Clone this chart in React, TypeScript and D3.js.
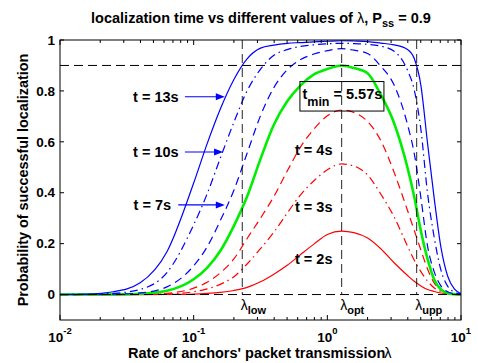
import React from 'react';
import * as d3 from 'd3';

// ---- data ----
const lambda = [0.01, 0.0158, 0.0251, 0.0398, 0.0631, 0.1, 0.126, 0.158, 0.2, 0.251, 0.316, 0.398, 0.501, 0.631, 0.794, 1, 1.28, 1.58, 2.0, 2.51, 3.16, 3.98, 4.47, 5.01, 5.62, 6.31, 7.08, 7.94, 8.91, 10];

const p13 = [0.0004, 0.002, 0.011, 0.046, 0.168, 0.438, 0.592, 0.728, 0.845, 0.926, 0.968, 0.98, 0.987, 0.99, 0.993, 0.995, 0.997, 0.996, 0.994, 0.988, 0.981, 0.963, 0.927, 0.822, 0.594, 0.376, 0.185, 0.073, 0.022, 0.004];
const p10 = [0.0001, 0.0009, 0.0047, 0.02, 0.086, 0.274, 0.395, 0.535, 0.677, 0.8, 0.885, 0.94, 0.962, 0.975, 0.981, 0.985, 0.987, 0.986, 0.983, 0.976, 0.956, 0.881, 0.804, 0.649, 0.398, 0.223, 0.096, 0.033, 0.0098, 0.0017];
const p7 = [0, 0.0002, 0.0014, 0.0063, 0.03, 0.113, 0.187, 0.29, 0.41, 0.555, 0.702, 0.813, 0.883, 0.923, 0.945, 0.958, 0.966, 0.96, 0.947, 0.897, 0.823, 0.668, 0.554, 0.381, 0.19, 0.089, 0.034, 0.011, 0.003, 0.0005];
const pMin = [0, 0.0001, 0.0007, 0.0032, 0.015, 0.06, 0.105, 0.171, 0.27, 0.385, 0.532, 0.667, 0.759, 0.822, 0.865, 0.886, 0.9, 0.89, 0.869, 0.785, 0.673, 0.498, 0.384, 0.25, 0.14, 0.058, 0.02, 0.006, 0.0015, 0.0002];
const p4 = [0, 0, 0.0001, 0.001, 0.005, 0.025, 0.048, 0.085, 0.14, 0.22, 0.3, 0.385, 0.485, 0.58, 0.65, 0.702, 0.725, 0.715, 0.68, 0.605, 0.48, 0.33, 0.252, 0.175, 0.1, 0.045, 0.018, 0.006, 0.002, 0];
const p3 = [0, 0, 0, 0.0004, 0.002, 0.011, 0.022, 0.04, 0.07, 0.12, 0.18, 0.245, 0.32, 0.392, 0.447, 0.49, 0.513, 0.505, 0.47, 0.395, 0.305, 0.19, 0.135, 0.09, 0.053, 0.026, 0.012, 0.005, 0.002, 0];
const p2 = [0, 0, 0, 0, 0.0004, 0.002, 0.0045, 0.0085, 0.016, 0.028, 0.05, 0.08, 0.115, 0.157, 0.198, 0.236, 0.249, 0.243, 0.222, 0.18, 0.125, 0.075, 0.052, 0.034, 0.02, 0.012, 0.006, 0.003, 0.001, 0];

const lambdaLow = 0.231;
const lambdaOpt = 1.28;
const lambdaUpp = 4.66;
const pss = 0.9;
const tMin = '5.57s';

const xMajor = [0.01, 0.1, 1, 10];
const xMajorExp = ['-2', '-1', '0', '1'];
const yTicks = [0, 0.2, 0.4, 0.6, 0.8, 1];
const yTickLabels = ['0', '0.2', '0.4', '0.6', '0.8', '1'];

const blueLabels = ['t = 13s', 't = 10s', 't = 7s'];
const blueLabelLam = [0.0352, 0.0352, 0.0355];
const blueLabelVal = [0.777, 0.56, 0.352];
const arrowFrom = [0.086, 0.086, 0.0767];
const arrowTo = [0.171, 0.166, 0.171];
const redLabels = ['t = 4s', 't = 3s', 't = 2s'];
const redLabelLam = [0.573, 0.573, 0.573];
const redLabelVal = [0.57, 0.344, 0.14];

const FONT = "'Liberation Sans', Arial, Helvetica, sans-serif";

export default function App() {
  const L = 60, R = 461, T = 40, B = 320;
  const x = d3.scaleLog().domain([0.01, 10]).range([L, R]);
  const y = d3.scaleLinear().domain([-0.1, 1]).range([B, T]);

  const series = [
    { v: p2, color: '#ff0000', dash: undefined, w: 1.2 },
    { v: p3, color: '#ff0000', dash: '8,4,1.5,4', w: 1.2 },
    { v: p4, color: '#ff0000', dash: '8,5', w: 1.2 },
    { v: pMin, color: '#00ee00', dash: undefined, w: 2.6 },
    { v: p7, color: '#0000ff', dash: '8,5', w: 1.2 },
    { v: p10, color: '#0000ff', dash: '8,4,1.5,4', w: 1.2 },
    { v: p13, color: '#0000ff', dash: undefined, w: 1.2 },
  ];

  const line = d3
    .line<number>()
    .x((_, i) => x(lambda[i]))
    .y((d) => y(d))
    .curve(d3.curveMonotoneX);

  const minor: number[] = [];
  [0.01, 0.1, 1].forEach((dec) => {
    for (let k = 2; k <= 9; k++) minor.push(k * dec);
  });

  const refDash = '9,5';
  const vlines = [
    { lam: lambdaLow, sub: 'low' },
    { lam: lambdaOpt, sub: 'opt' },
    { lam: lambdaUpp, sub: 'upp' },
  ];

  const boxX = x(0.64);
  const boxY = y(0.77);

  return (
    <svg
      width={478}
      height={363}
      style={{ position: 'absolute', left: 0, top: 0, background: '#fff' }}
      fontFamily={FONT}
    >
      <rect x={0} y={0} width={478} height={363} fill="#fff" />
      <defs>
        <clipPath id="plotclip">
          <rect x={L} y={T} width={R - L} height={B - T} />
        </clipPath>
      </defs>

      {/* curves */}
      <g clipPath="url(#plotclip)">
        {series.map((s, i) => (
          <path
            key={i}
            d={line(s.v) || ''}
            fill="none"
            stroke={s.color}
            strokeWidth={s.w}
            strokeDasharray={s.dash}
          />
        ))}
      </g>

      {/* reference lines */}
      <line x1={L} x2={R} y1={y(pss)} y2={y(pss)} stroke="#000" strokeWidth={1} strokeDasharray={refDash} />
      <line x1={L} x2={R} y1={y(0)} y2={y(0)} stroke="#000" strokeWidth={1} strokeDasharray={refDash} />
      {vlines.map((v) => (
        <line key={v.sub} x1={x(v.lam)} x2={x(v.lam)} y1={y(1)} y2={y(0)} stroke="#000" strokeWidth={1} strokeDasharray={refDash} opacity={0.85} />
      ))}
      {vlines.map((v) => (
        <text key={'t' + v.sub} x={x(v.lam) - 1.5} y={310} fontSize={14} fill="#000">
          λ
          <tspan fontSize={11} fontWeight="bold" dy={4}>{v.sub}</tspan>
        </text>
      ))}

      {/* axes box */}
      <rect x={L} y={T} width={R - L} height={B - T} fill="none" stroke="#000" strokeWidth={1} />

      {/* x ticks */}
      {xMajor.map((t) => (
        <g key={'xM' + t}>
          <line x1={x(t)} x2={x(t)} y1={B} y2={B - 5} stroke="#000" />
          <line x1={x(t)} x2={x(t)} y1={T} y2={T + 5} stroke="#000" />
        </g>
      ))}
      {minor.map((t) => (
        <g key={'xm' + t}>
          <line x1={x(t)} x2={x(t)} y1={B} y2={B - 3} stroke="#000" />
          <line x1={x(t)} x2={x(t)} y1={T} y2={T + 3} stroke="#000" />
        </g>
      ))}
      {xMajor.map((t, i) => (
        <text key={'xl' + t} x={x(t)} y={342} textAnchor="middle" fontWeight="bold" fontSize={13.5}>
          10
          <tspan fontSize={9.5} dy={-8}>{xMajorExp[i]}</tspan>
        </text>
      ))}

      {/* y ticks */}
      {yTicks.map((t, i) => (
        <g key={'y' + t}>
          <line x1={L} x2={L + 4} y1={y(t)} y2={y(t)} stroke="#000" />
          <line x1={R} x2={R - 4} y1={y(t)} y2={y(t)} stroke="#000" />
          <text x={55} y={y(t)} dy="0.35em" textAnchor="end" fontWeight="bold" fontSize={13.5}>
            {yTickLabels[i]}
          </text>
        </g>
      ))}

      {/* title */}
      <text x={261} y={23} textAnchor="middle" fontWeight="bold" fontSize={14.5}>
        localization time vs different values of <tspan fontWeight="normal">λ</tspan>, P
        <tspan fontSize={11} dy={4}>ss</tspan>
        <tspan dy={-4}> = 0.9</tspan>
      </text>

      {/* axis labels */}
      <text x={128} y={358} fontWeight="bold" fontSize={14.5}>
        Rate of anchors' packet transmission<tspan fontWeight="normal" dx={-1}>λ</tspan>
      </text>
      <text transform={`translate(28,${(T + B) / 2}) rotate(-90)`} textAnchor="middle" fontWeight="bold" fontSize={14.4}>
        Probability of successful localization
      </text>

      {/* blue annotations */}
      {blueLabels.map((s, i) => {
        const yy = y(blueLabelVal[i]);
        const x1 = x(arrowFrom[i]);
        const x2 = x(arrowTo[i]);
        return (
          <g key={s}>
            <text x={x(blueLabelLam[i])} y={yy} dy="0.35em" fontWeight="bold" fontSize={14.5}>
              {s}
            </text>
            <line x1={x1} x2={x2 - 7} y1={yy} y2={yy} stroke="#0000ff" strokeWidth={1.2} />
            <path d={`M${x2},${yy} L${x2 - 9},${yy - 3.5} L${x2 - 9},${yy + 3.5} Z`} fill="#0000ff" />
          </g>
        );
      })}

      {/* red annotations */}
      {redLabels.map((s, i) => (
        <text key={s} x={x(redLabelLam[i])} y={y(redLabelVal[i])} dy="0.35em" fontWeight="bold" fontSize={14.5}>
          {s}
        </text>
      ))}

      {/* t_min box */}
      <rect x={boxX - 1.5} y={boxY - 17} width={84} height={29.5} fill="none" stroke="#000" strokeWidth={1} />
      <text x={boxX + 1} y={boxY} fontWeight="bold" fontSize={14.5}>
        t<tspan fontSize={12.5} dy={7}>min</tspan>
        <tspan dy={-7}> = {tMin}</tspan>
      </text>
    </svg>
  );
}
